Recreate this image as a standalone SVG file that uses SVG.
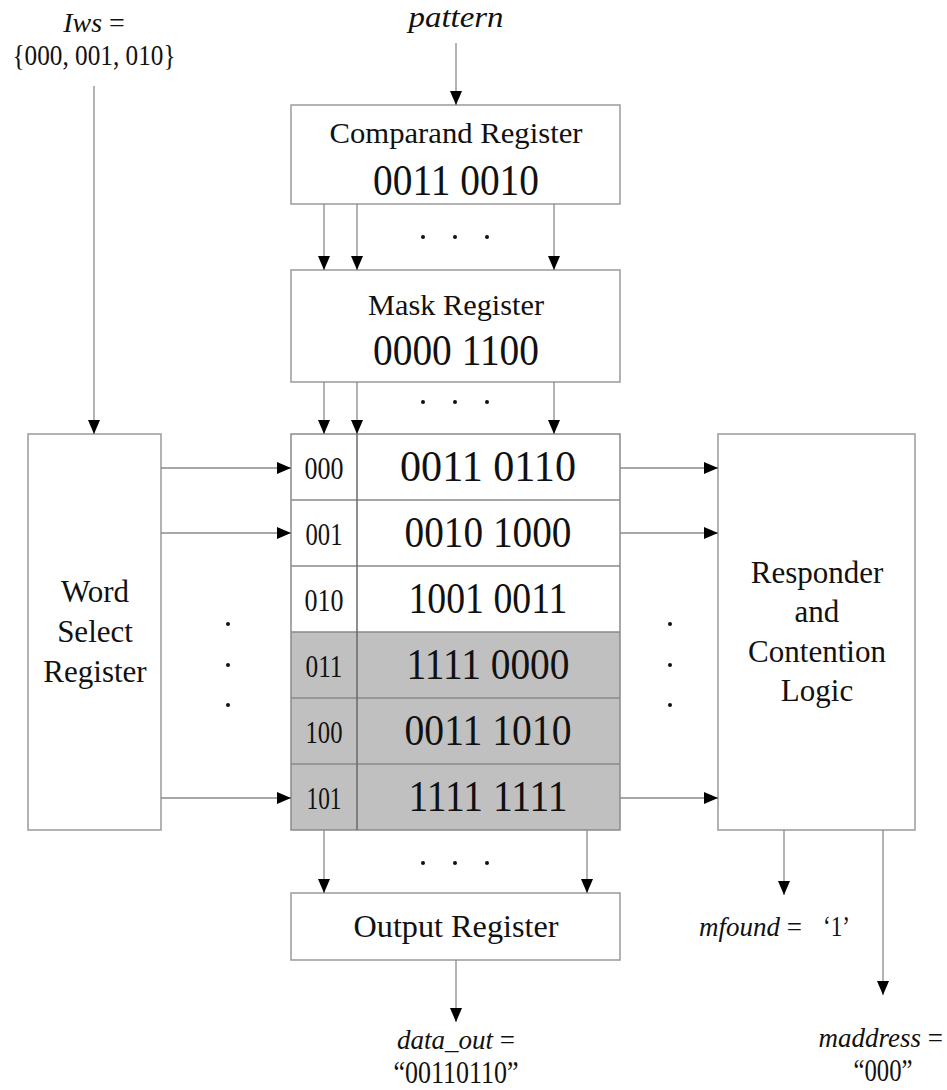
<svg xmlns="http://www.w3.org/2000/svg" width="947" height="1090" viewBox="0 0 947 1090">
<defs>
<style>
.box{fill:#fff;stroke:#9a9a9a;stroke-width:1.5}
.ar{stroke:#8a8a8a;stroke-width:1.3;fill:none;marker-end:url(#ah)}
.t{font-family:"Liberation Serif","Times New Roman",serif;fill:#111;text-anchor:middle}
.s{font-family:"Liberation Serif","Times New Roman",serif;fill:#111}
.i{font-style:italic}
.dot{fill:#111}
</style>
<marker id="ah" markerUnits="userSpaceOnUse" markerWidth="14" markerHeight="12" refX="14" refY="6" orient="auto">
<path d="M0,0 L14,6 L0,12 Z" fill="#000"/>
</marker>
</defs>
<rect width="947" height="1090" fill="#fff"/>

<g id="inputs">
<text class="t" x="94" y="32" font-size="28"><tspan class="i">Iws</tspan> =</text>
<text class="t" x="94" y="65" font-size="30" textLength="163" lengthAdjust="spacingAndGlyphs">{000, 001, 010}</text>
<text class="t i" x="456" y="27" font-size="30" textLength="95" lengthAdjust="spacingAndGlyphs">pattern</text>
</g>

<g id="comparand">
<rect class="box" x="291" y="105" width="329" height="99"/>
<text class="t" x="456" y="143" font-size="30" textLength="253" lengthAdjust="spacingAndGlyphs">Comparand Register</text>
<text class="t" x="456" y="195" font-size="44" textLength="166" lengthAdjust="spacingAndGlyphs">0011 0010</text>
</g>

<g id="mask">
<rect class="box" x="291" y="270" width="329" height="112"/>
<text class="t" x="456" y="315" font-size="30" textLength="176" lengthAdjust="spacingAndGlyphs">Mask Register</text>
<text class="t" x="456" y="365" font-size="44" textLength="166" lengthAdjust="spacingAndGlyphs">0000 1100</text>
</g>

<g id="memory">
<rect x="291" y="434" width="329" height="198" fill="#fff"/>
<rect x="291" y="632" width="329" height="198" fill="#c0c0c0"/>
<rect x="291" y="434" width="329" height="396" fill="none" stroke="#8a8a8a" stroke-width="1.5"/>
<g stroke="#8a8a8a" stroke-width="1.5">
<line x1="291" y1="500" x2="620" y2="500"/>
<line x1="291" y1="566" x2="620" y2="566"/>
<line x1="291" y1="632" x2="620" y2="632"/>
<line x1="291" y1="698" x2="620" y2="698"/>
<line x1="291" y1="764" x2="620" y2="764"/>
<line x1="357" y1="434" x2="357" y2="830" stroke="#6a6a6a"/>
</g>
<g class="t" font-size="32">
<text x="324" y="479" textLength="39" lengthAdjust="spacingAndGlyphs">000</text>
<text x="324" y="545" textLength="37" lengthAdjust="spacingAndGlyphs">001</text>
<text x="324" y="611" textLength="39" lengthAdjust="spacingAndGlyphs">010</text>
<text x="324" y="677" textLength="37" lengthAdjust="spacingAndGlyphs">011</text>
<text x="324" y="743" textLength="37" lengthAdjust="spacingAndGlyphs">100</text>
<text x="324" y="809" textLength="35" lengthAdjust="spacingAndGlyphs">101</text>
</g>
<g class="t" font-size="44">
<text x="488" y="481" textLength="176" lengthAdjust="spacingAndGlyphs">0011 0110</text>
<text x="488" y="547" textLength="167" lengthAdjust="spacingAndGlyphs">0010 1000</text>
<text x="488" y="613" textLength="159" lengthAdjust="spacingAndGlyphs">1001 0011</text>
<text x="488" y="679" textLength="163" lengthAdjust="spacingAndGlyphs">1111 0000</text>
<text x="488" y="745" textLength="167" lengthAdjust="spacingAndGlyphs">0011 1010</text>
<text x="488" y="811" textLength="159" lengthAdjust="spacingAndGlyphs">1111 1111</text>
</g>
</g>

<g id="wordselect">
<rect class="box" x="28" y="434" width="133" height="396"/>
<text class="t" x="95" y="602" font-size="31">Word</text>
<text class="t" x="95" y="642" font-size="31">Select</text>
<text class="t" x="95" y="682" font-size="31">Register</text>
</g>

<g id="responder">
<rect class="box" x="718" y="434" width="197" height="396"/>
<text class="t" x="817" y="583" font-size="31">Responder</text>
<text class="t" x="817" y="622" font-size="31">and</text>
<text class="t" x="817" y="662" font-size="31">Contention</text>
<text class="t" x="817" y="701" font-size="31">Logic</text>
</g>

<g id="output">
<rect class="box" x="291" y="893" width="329" height="67"/>
<text class="t" x="456" y="937" font-size="31" textLength="205" lengthAdjust="spacingAndGlyphs">Output Register</text>
</g>

<g id="outputs">
<text class="t" x="456" y="1049" font-size="27"><tspan class="i">data_out</tspan> =</text>
<text class="t" x="456" y="1083" font-size="31" textLength="125" lengthAdjust="spacingAndGlyphs">“00110110”</text>
<text class="s" x="699" y="936" font-size="27"><tspan class="i">mfound</tspan> =</text>
<text class="s" x="823" y="936" font-size="30" textLength="27" lengthAdjust="spacingAndGlyphs">‘1’</text>
<text class="s" x="943" y="1047" font-size="27" text-anchor="end"><tspan class="i">maddress</tspan> =</text>
<text class="t" x="883" y="1081" font-size="31" textLength="59" lengthAdjust="spacingAndGlyphs">“000”</text>
</g>

<g id="connectors">
<line class="ar" x1="94" y1="86" x2="94" y2="434"/>
<line class="ar" x1="456" y1="43" x2="456" y2="105"/>
<line class="ar" x1="324" y1="204" x2="324" y2="270"/>
<line class="ar" x1="357" y1="204" x2="357" y2="270"/>
<line class="ar" x1="554" y1="204" x2="554" y2="270"/>
<line class="ar" x1="324" y1="382" x2="324" y2="434"/>
<line class="ar" x1="357" y1="382" x2="357" y2="434"/>
<line class="ar" x1="554" y1="382" x2="554" y2="434"/>
<line class="ar" x1="161" y1="468" x2="291" y2="468"/>
<line class="ar" x1="161" y1="533" x2="291" y2="533"/>
<line class="ar" x1="161" y1="798" x2="291" y2="798"/>
<line class="ar" x1="620" y1="468" x2="718" y2="468"/>
<line class="ar" x1="620" y1="533" x2="718" y2="533"/>
<line class="ar" x1="620" y1="798" x2="718" y2="798"/>
<line class="ar" x1="324" y1="830" x2="324" y2="893"/>
<line class="ar" x1="587" y1="830" x2="587" y2="893"/>
<line class="ar" x1="456" y1="960" x2="456" y2="1022"/>
<line class="ar" x1="784" y1="830" x2="784" y2="895"/>
<line class="ar" x1="883" y1="830" x2="883" y2="995"/>
</g>

<g id="ellipses">
<circle class="dot" cx="423" cy="237" r="2"/><circle class="dot" cx="455" cy="237" r="2"/><circle class="dot" cx="487" cy="237" r="2"/>
<circle class="dot" cx="423" cy="402" r="2"/><circle class="dot" cx="455" cy="402" r="2"/><circle class="dot" cx="487" cy="402" r="2"/>
<circle class="dot" cx="423" cy="863" r="2"/><circle class="dot" cx="455" cy="863" r="2"/><circle class="dot" cx="487" cy="863" r="2"/>
<circle class="dot" cx="228" cy="624" r="2"/><circle class="dot" cx="228" cy="665" r="2"/><circle class="dot" cx="228" cy="705" r="2"/>
<circle class="dot" cx="670" cy="624" r="2"/><circle class="dot" cx="670" cy="665" r="2"/><circle class="dot" cx="670" cy="705" r="2"/>
</g>
</svg>
